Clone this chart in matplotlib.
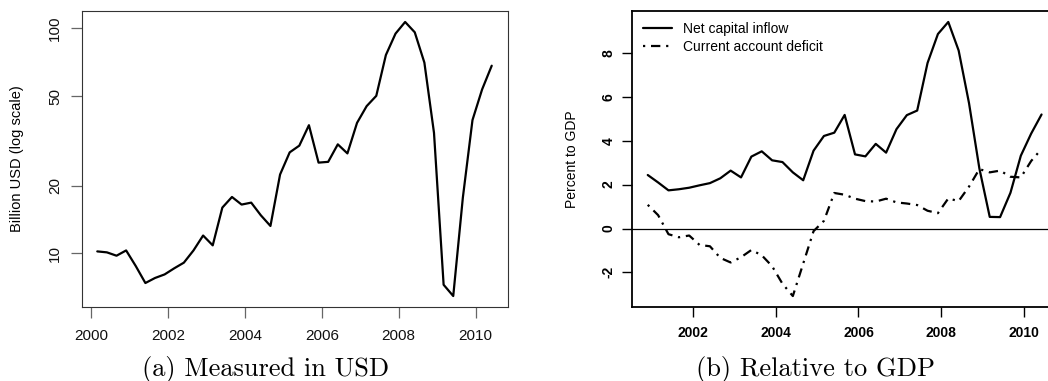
import numpy as np
import pandas as pd
import matplotlib
matplotlib.use("Agg")
import matplotlib.pyplot as plt

# ------------ data -----------------
# net capital inflow, billion USD, 2000Q1 .. 2010Q2
usd_start, usd_end = "2000Q1", "2010Q2"
inflow_usd = [10.2, 10.1, 9.76, 10.3, 8.78, 7.38, 7.77, 8.06, 8.58, 9.09,
              10.3, 12.0, 10.85, 15.97, 17.8, 16.47, 16.8, 14.76, 13.23, 22.4,
              28.1, 30.1, 37.1, 25.3, 25.5, 30.5, 27.8, 38.0, 45.1, 50.1,
              76.1, 94.7, 106.7, 96.0, 70.4, 34.3, 7.25, 6.46, 17.7, 39.1,
              53.5, 68.2]

# percent to GDP, 2000Q4 .. 2010Q2
gdp_start, gdp_end = "2000Q4", "2010Q2"
inflow_gdp = [2.44, 2.10, 1.74, 1.79, 1.86, 1.97, 2.07, 2.29, 2.64, 2.33,
              3.28, 3.52, 3.11, 3.03, 2.56, 2.20, 3.55, 4.22, 4.37, 5.18,
              3.38, 3.29, 3.86, 3.46, 4.53, 5.17, 5.38, 7.55, 8.87, 9.42,
              8.12, 5.72, 2.74, 0.53, 0.52, 1.63, 3.32, 4.33, 5.20]
ca_deficit = [1.08, 0.61, -0.26, -0.40, -0.32, -0.75, -0.81, -1.34, -1.55, -1.31,
              -0.98, -1.22, -1.72, -2.52, -3.08, -1.60, -0.12, 0.35, 1.62, 1.54,
              1.36, 1.25, 1.23, 1.36, 1.19, 1.14, 1.07, 0.81, 0.70, 1.37,
              1.25, 1.91, 2.71, 2.56, 2.64, 2.36, 2.33, 3.08, 3.63]

xticks_a = [2000, 2002, 2004, 2006, 2008, 2010]
yticks_a = [10, 20, 50, 100]
xticks_b = [2002, 2004, 2006, 2008, 2010]
yticks_b = [-2, 0, 2, 4, 6, 8]


def quarter_time(start, end):
    """decimal year at the last month of each quarter"""
    p = pd.period_range(start, end, freq="Q")
    return p.year + (p.quarter * 3 - 1) / 12.0


def r_range(v, log=False):
    """axis range with 4% padding on each side"""
    v = np.log10(v) if log else np.asarray(v, dtype=float)
    lo, hi = np.min(v), np.max(v)
    d = 0.04 * (hi - lo)
    lo, hi = lo - d, hi + d
    return (10 ** lo, 10 ** hi) if log else (lo, hi)


t_usd = quarter_time(usd_start, usd_end)
t_gdp = quarter_time(gdp_start, gdp_end)

sans = "Liberation Sans"
plt.rcParams["font.family"] = sans
plt.rcParams["lines.solid_capstyle"] = "round"

W, H = 1048, 381
fig = plt.figure(figsize=(W / 100, H / 100), dpi=100)


def px_axes(x0, x1, y0, y1):
    return fig.add_axes([x0 / W, 1 - y1 / H, (x1 - x0) / W, (y1 - y0) / H])


# ---------------  panel (a)  ----------------
ax1 = px_axes(81.5, 507.5, 11, 307)
ax1.plot(t_usd, inflow_usd, color="k", lw=1.6)
ax1.set_yscale("log")
ax1.set_xlim(r_range(t_usd))
ax1.set_ylim(r_range(inflow_usd, log=True))
ax1.set_xticks(xticks_a)
ax1.set_xticklabels([str(v) for v in xticks_a])
ax1.set_yticks(yticks_a)
ax1.set_yticklabels([str(v) for v in yticks_a], rotation=90, va="center")
ax1.yaxis.set_minor_locator(matplotlib.ticker.NullLocator())
for s in ax1.spines.values():
    s.set_color("#333333")
    s.set_linewidth(0.8)
ax1.tick_params(axis="both", length=8, width=0.9, color="#666666",
                labelsize=11, labelcolor="#111111")
ax1.tick_params(axis="x", pad=8)
ax1.tick_params(axis="y", pad=6)
ax1.set_ylabel("Billion USD (log scale)", fontsize=10.5, va="center")
ax1.yaxis.set_label_coords((17 - 81.5) / 426, 0.5)

# ---------------  panel (b)  ----------------
ax2 = px_axes(632, 1057.3, 11, 307)
ax2.axhline(0, color="k", lw=0.9)
ax2.plot(t_gdp, inflow_gdp, color="k", lw=1.6, label="Net capital inflow")
ax2.plot(t_gdp, ca_deficit, color="k", lw=1.6, linestyle=(0, (1, 2.6, 4.2, 2.6)),
         label="Current account deficit")
ax2.set_xlim(r_range(t_gdp))
ax2.set_ylim(r_range(inflow_gdp + ca_deficit))
ax2.set_xticks(xticks_b)
ax2.set_xticklabels([str(v) for v in xticks_b], fontweight="bold")
ax2.set_yticks(yticks_b)
ax2.set_yticklabels([str(v) for v in yticks_b], rotation=90, va="center",
                    fontweight="bold")
for s in ax2.spines.values():
    s.set_color("k")
    s.set_linewidth(1.3)
ax2.tick_params(axis="both", length=7, width=1.0, color="k", labelsize=10)
ax2.tick_params(axis="x", pad=7)
ax2.tick_params(axis="y", pad=5)
ax2.set_ylabel("Percent to GDP", fontsize=10, va="center")
ax2.yaxis.set_label_coords((572 - 632) / 425.3, 0.5)
ax2.legend(loc="upper left", frameon=False, fontsize=10, handlelength=2.1,
           handletextpad=0.75, labelspacing=0.3, borderaxespad=0.5,
           borderpad=0.3)

# ---------------  captions  ----------------
fig.text(266 / W, 1 - 376 / H, "(a) Measured in USD", family="cmr10",
         fontsize=19, ha="center", va="baseline")
fig.text(815 / W, 1 - 376 / H, "(b) Relative to GDP", family="cmr10",
         fontsize=19, ha="center", va="baseline")

fig.savefig("out.png", dpi=100)
